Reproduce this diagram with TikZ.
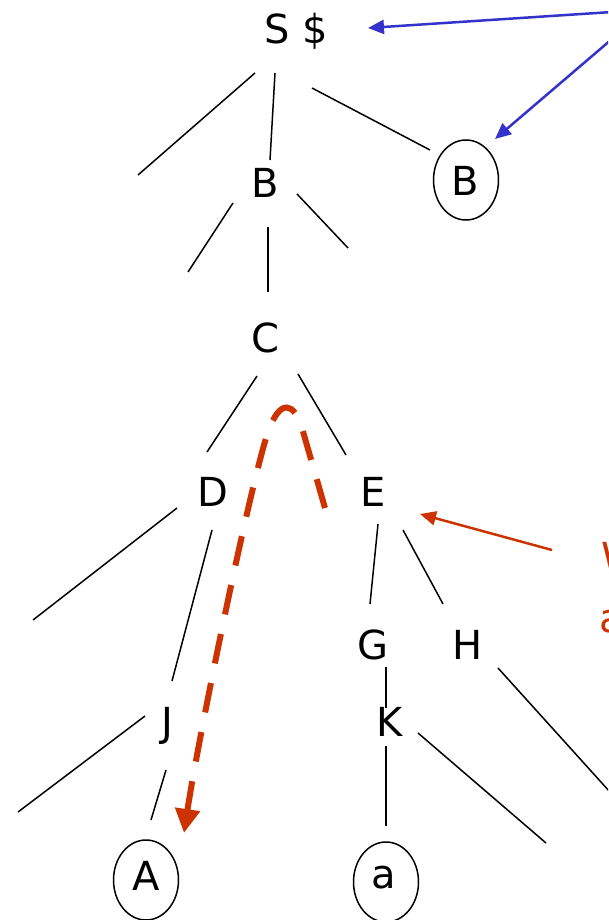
\documentclass[tikz,border=0pt]{standalone}
\usepackage{fontspec}
\setmainfont{DejaVu Sans}
\usetikzlibrary{arrows.meta,shapes.geometric}
\definecolor{linkblue}{RGB}{51,51,204}
\definecolor{rust}{RGB}{204,51,0}

\begin{document}
\begin{tikzpicture}[x=1pt,y=-1pt,
  lbl/.style={font=\fontsize{40}{48}\selectfont, inner sep=0pt, anchor=base},
  leaf/.style={draw, ellipse, line width=1.5pt, minimum width=65pt, minimum height=80pt, inner sep=0pt},
  edge/.style={line width=1.5pt},
  pointer/.style={line width=2.5pt, -{Triangle[length=16pt,width=14pt]}},
  trace/.style={rust, line width=6pt, dash pattern=on 30pt off 20pt,
                -{Triangle[length=24pt,width=24pt]}}
]
\useasboundingbox (0,0) rectangle (608,920);
\clip (0,0) rectangle (608,920);

% symbols of the tree
\node[lbl] (S)  at (296,44)  {S \$};
\node[lbl] (B)  at (265,197) {B};
\node[lbl] (C)  at (265,352) {C};
\node[lbl] (D)  at (213,506) {D};
\node[lbl] (E)  at (373,506) {E};
\node[lbl] (G)  at (373,659) {G};
\node[lbl] (H)  at (468,659) {H};
\node[lbl] (J)  at (167,736) {J};
\node[lbl] (K)  at (390,736) {K};

% circled leaves
\node[leaf] (oB) at (466,180) {};
\node[lbl]  (Bl) at (465,196) {B};
\node[leaf] (oA) at (146,880) {};
\node[lbl]  (Al) at (146,890) {A};
\node[leaf] (oa) at (386,882) {};
\node[lbl]  (al) at (384,888) {a};

% end points of the tree edges
\coordinate (sL0) at (255,73);  \coordinate (sL1) at (138,175);
\coordinate (sM0) at (275,73);  \coordinate (sM1) at (270,160);
\coordinate (sR0) at (312,88);  \coordinate (sR1) at (430,150);
\coordinate (bL0) at (233,203); \coordinate (bL1) at (188,272);
\coordinate (bM0) at (268,227); \coordinate (bM1) at (268,292);
\coordinate (bR0) at (297,194); \coordinate (bR1) at (348,248);
\coordinate (cL0) at (257,376); \coordinate (cL1) at (207,452);
\coordinate (cR0) at (298,374); \coordinate (cR1) at (346,455);
\coordinate (dL0) at (177,508); \coordinate (dL1) at (33,620);
\coordinate (dM0) at (212,530); \coordinate (dM1) at (172,681);
\coordinate (jL0) at (145,716); \coordinate (jL1) at (18,812);
\coordinate (jM0) at (166,770); \coordinate (jM1) at (151,820);
\coordinate (eL0) at (378,524); \coordinate (eL1) at (370,604);
\coordinate (eR0) at (403,530); \coordinate (eR1) at (443,604);
\coordinate (gK0) at (386,667); \coordinate (gK1) at (386,708);
\coordinate (kM0) at (386,746); \coordinate (kM1) at (386,826);
\coordinate (kR0) at (418,733); \coordinate (kR1) at (546,843);
\coordinate (hR0) at (498,668); \coordinate (hR1) at (610,792);

\foreach \e in {sL,sM,sR,bL,bM,bR,cL,cR,dL,dM,jL,jM,eL,eR,gK,kM,kR,hR}
  \draw[edge] (\e0) -- (\e1);

% blue pointers entering from the right
\coordinate (p1) at (612,12);
\coordinate (p2) at (612,39);
\coordinate (t1) at (368,28);
\coordinate (t2) at (495,139);
\draw[pointer, linkblue] (p1) -- (t1);
\draw[pointer, linkblue] (p2) -- (t2);

% red pointer to E and its caption
\coordinate (r0) at (552,550);
\coordinate (r1) at (420,514);
\draw[pointer, rust] (r0) -- (r1);
\node[lbl, text=rust, anchor=base west] (cap1) at (601,571) {W};
\node[lbl, text=rust, anchor=base west] (cap2) at (599,632) {a};

% dashed traversal path from E up over C and down to A
\coordinate (tr0) at (325,508);
\coordinate (tr1) at (184,833);
\draw[trace] (tr0) -- (302,428) .. controls (294,402) and (280,398) .. (268,432)
  .. controls (250,485) and (198,740) .. (tr1);
\end{tikzpicture}
\end{document}
